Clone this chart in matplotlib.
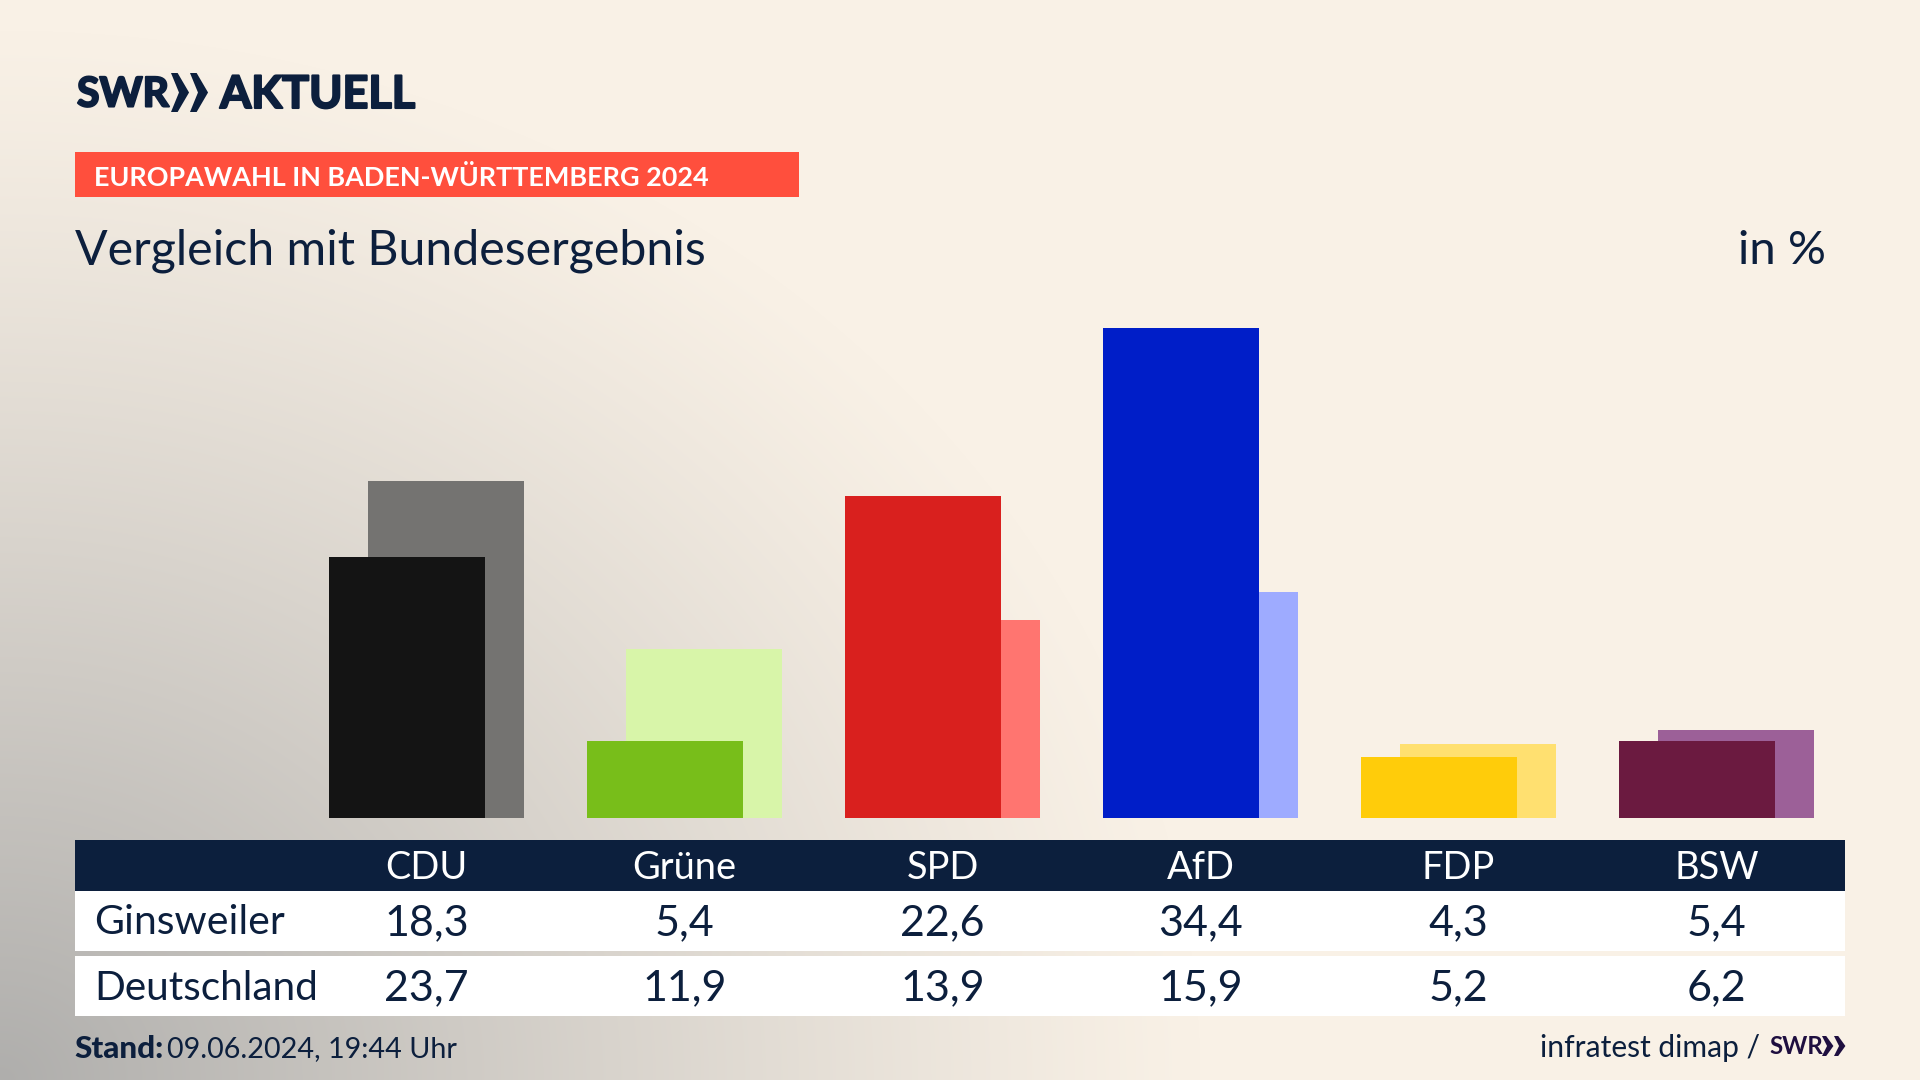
#!/usr/bin/env python3
"""SWR Aktuell: Europawahl 2024, Ginsweiler compared with the federal result."""
import numpy as np
import matplotlib
matplotlib.use("Agg")
import matplotlib.pyplot as plt
import matplotlib.patheffects as pe
from matplotlib.patches import Polygon, Rectangle

parties = ["CDU", "Grüne", "SPD", "AfD", "FDP", "BSW"]
ginsweiler = [18.3, 5.4, 22.6, 34.4, 4.3, 5.4]
deutschland = [23.7, 11.9, 13.9, 15.9, 5.2, 6.2]
front_colors = ["#141414", "#78BE1A", "#D9201E", "#001EC8", "#FFCC0A", "#6B1A40"]
back_colors = ["#747371", "#D8F5A9", "#FF7570", "#9EABFF", "#FFE070", "#9C6098"]

NAVY = "#0C1F3D"
W, H = 1920, 1080
COL0 = 426.5  # pixel centre of first bar pair
STEP = 258  # pixels between columns
BAR_W = 156
BAR_OFF = 39
BASE_Y = 818
PX_PER_PCT = 14.24

plt.rcParams["font.family"] = ["Lato", "DejaVu Sans"]


def px(size):
    """Font size in points from a size in pixels at dpi 100."""
    return size * 0.72


def fmt(v):
    return f"{v:.1f}".replace(".", ",")


def background():
    yy, xx = np.mgrid[0:H, 0:W]
    # grey glow out of the lower left corner, on a cream ground
    d = np.sqrt((xx / 1200.0) ** 2 + ((H - yy) / 1050.0) ** 2)
    t = np.clip(1 - d, 0, 1) ** 1.15
    cream = np.array([249, 241, 230]) / 255
    grey = np.array([175, 174, 172]) / 255
    return cream + (grey - cream) * t[..., None]


def chevrons(ax, x0, y0, w, h, color):
    for k in (0, 0.5):
        left = x0 + k * w
        cw = w * 0.5
        pts = [(left, y0), (left + cw * 0.35, y0), (left + cw * 0.95, y0 + h / 2),
               (left + cw * 0.35, y0 + h), (left, y0 + h), (left + cw * 0.42, y0 + h / 2)]
        ax.add_patch(Polygon(pts, closed=True, color=color, lw=0))


def main():
    fig = plt.figure(figsize=(W / 100, H / 100), dpi=100)
    ax = fig.add_axes([0, 0, 1, 1])
    ax.set_xlim(0, W)
    ax.set_ylim(H, 0)
    ax.axis("off")
    ax.imshow(background(), extent=(0, W, H, 0), aspect="auto", zorder=0)

    # logo, thickened a bit since the installed fonts are wider than the original
    heavy = [pe.withStroke(linewidth=1.5, foreground=NAVY)]
    ax.text(77, 95, "SWR", fontsize=px(41), fontweight="bold", color=NAVY, va="center", path_effects=heavy)
    chevrons(ax, 171, 73, 38, 39, NAVY)
    ax.text(220, 95, "AKTUELL", fontsize=px(45), fontweight="bold", color=NAVY, va="center", path_effects=heavy)

    # headline
    ax.add_patch(Rectangle((75, 152), 724, 45, color="#FF4F3D", lw=0))
    ax.text(94, 177, "EUROPAWAHL IN BADEN-WÜRTTEMBERG 2024", fontsize=px(27),
            fontweight="bold", color="white", va="center")
    ax.text(75, 251, "Vergleich mit Bundesergebnis", fontsize=px(48.3), color=NAVY, va="center")
    ax.text(1826, 251, "in %", fontsize=px(47.5), color=NAVY, va="center", ha="right")

    # bars
    bar_top = 280
    bx = fig.add_axes([75 / W, 1 - BASE_Y / H, (1845 - 75) / W, (BASE_Y - bar_top) / H])
    bx.set_xlim((75 - COL0) / STEP, (1845 - COL0) / STEP)
    bx.set_ylim(0, (BASE_Y - bar_top) / PX_PER_PCT)
    bx.axis("off")
    bx.patch.set_alpha(0)
    pos = np.arange(len(parties))
    width = BAR_W / STEP
    off = BAR_OFF / STEP / 2
    bx.bar(pos + off, deutschland, width=width, color=back_colors, zorder=2)
    bx.bar(pos - off, ginsweiler, width=width, color=front_colors, zorder=3)

    # table
    ax.add_patch(Rectangle((75, 840), 1770, 51, color=NAVY, lw=0, zorder=2))
    ax.add_patch(Rectangle((75, 891), 1770, 60, color="white", lw=0, zorder=2))
    ax.add_patch(Rectangle((75, 956), 1770, 60, color="white", lw=0, zorder=2))
    ax.text(94, 923, "Ginsweiler", fontsize=px(41), color=NAVY, va="center", zorder=3)
    ax.text(94, 988, "Deutschland", fontsize=px(40.5), color=NAVY, va="center", zorder=3)
    for i, name in enumerate(parties):
        x = 426.5 + i * STEP
        ax.text(x, 868, name, fontsize=px(38), color="white", ha="center", va="center", zorder=3)
        ax.text(x, 923, fmt(ginsweiler[i]), fontsize=px(43), color=NAVY, ha="center", va="center", zorder=3)
        ax.text(x, 988, fmt(deutschland[i]), fontsize=px(43), color=NAVY, ha="center", va="center", zorder=3)

    # footer
    ax.text(74, 1049, "Stand:", fontsize=px(31.5), fontweight="black", color=NAVY, va="center")
    ax.text(167, 1049, "09.06.2024, 19:44 Uhr", fontsize=px(28.7), color=NAVY, va="center")
    ax.text(1760, 1048, "infratest dimap /", fontsize=px(30), color=NAVY, va="center", ha="right")
    ax.text(1769, 1047, "SWR", fontsize=px(24), fontweight="bold", color="#1F0F40", va="center")
    chevrons(ax, 1822, 1036, 24, 20, "#1F0F40")

    fig.savefig("out.png", dpi=100)
    plt.close(fig)


if __name__ == "__main__":
    main()
